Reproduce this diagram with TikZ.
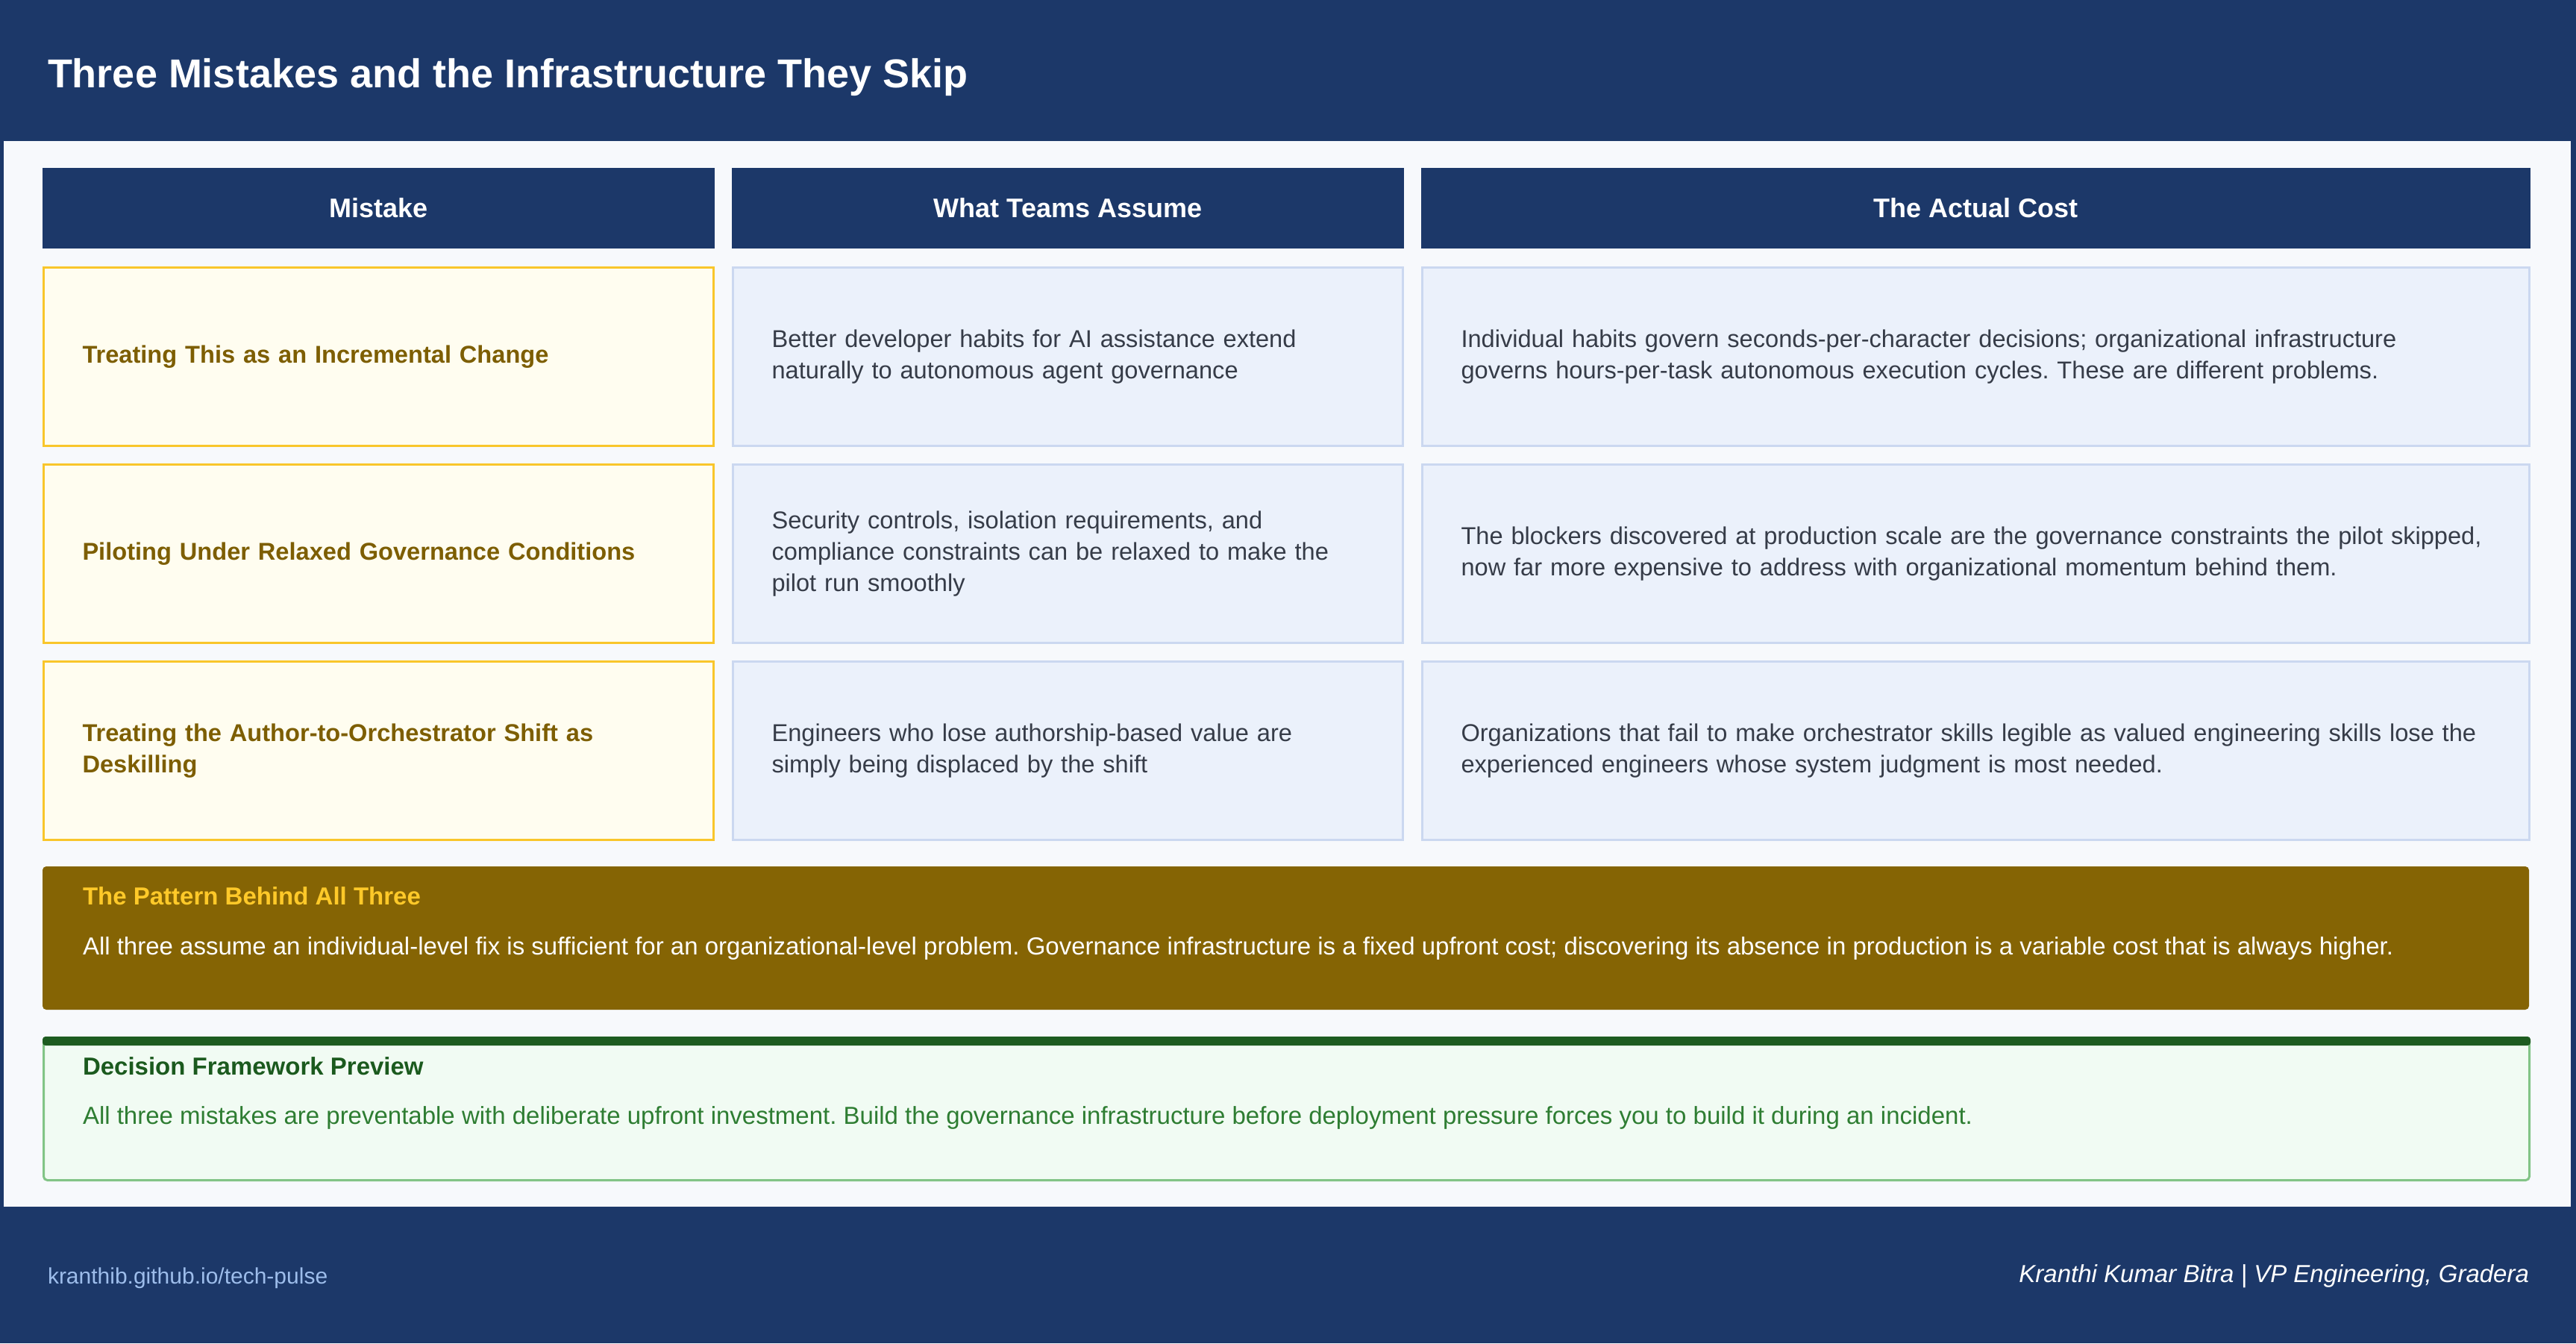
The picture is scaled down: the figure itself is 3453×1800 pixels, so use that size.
\documentclass[tikz,border=0pt]{standalone}
\usepackage{fontspec}
\setmainfont{Liberation Sans}
\usetikzlibrary{calc}
\definecolor{navy}{HTML}{1C3869}
\definecolor{panelbg}{HTML}{F7F9FC}
\definecolor{creamfill}{HTML}{FFFDF0}
\definecolor{yellowline}{HTML}{F9C62B}
\definecolor{goldtext}{HTML}{7D5E02}
\definecolor{bluefill}{HTML}{EBF1FB}
\definecolor{blueline}{HTML}{CBD8F0}
\definecolor{graytext}{HTML}{363C48}
\definecolor{patternfill}{HTML}{856404}
\definecolor{patterntitle}{HTML}{FFC929}
\definecolor{greenfill}{HTML}{F1FBF3}
\definecolor{greenline}{HTML}{82C486}
\definecolor{greenbar}{HTML}{1D5C20}
\definecolor{greentitle}{HTML}{1B5A1E}
\definecolor{greentext}{HTML}{2E7D32}
\definecolor{linkblue}{HTML}{9DBDEB}
\newcommand\fsTitle{\fontsize{54}{64}\selectfont\bfseries}
\newcommand\fsHead{\fontsize{36}{44}\selectfont\bfseries}
\newcommand\fsBody{\fontsize{33}{42}\selectfont}
\newcommand\fsCell{\fontsize{32.6}{42}\selectfont}
\newcommand\fsFoot{\fontsize{30}{36}\selectfont}
\tikzset{
  hdrcell/.style={fill=navy, text=white, font=\fsHead, minimum height=108pt, inner sep=0pt, outer sep=0pt, anchor=center},
  mistakecell/.style={draw=yellowline, fill=creamfill, line width=3pt, text=goldtext, font=\fsCell\bfseries,
     minimum height=239pt, inner xsep=52pt, inner ysep=0pt, align=left, anchor=center},
  infocell/.style={draw=blueline, fill=bluefill, line width=3pt, text=graytext, font=\fsCell,
     minimum height=239pt, inner xsep=52pt, inner ysep=0pt, align=left, anchor=center},
  narrowcol/.style={text width=794pt},
  widecol/.style={text width=1380pt},
  plaintext/.style={inner sep=0pt, outer sep=0pt, anchor=base west},
}
\begin{document}
\frenchspacing
\begin{tikzpicture}[x=1pt,y=-1pt]
\useasboundingbox (0,0) rectangle (3453,1800);
% background bands
\fill[navy] (0,0) rectangle (3453,1800);
\fill[panelbg] (5,189) rectangle (3446,1617);
% title
\node[plaintext, text=white, font=\fsTitle] (title) at (64,117) {Three Mistakes and the Infrastructure They Skip};
% column headers
\node[hdrcell, minimum width=901pt] (h1) at (507.5,279) {Mistake};
\node[hdrcell, minimum width=901pt] (h2) at (1431.5,279) {What Teams Assume};
\node[hdrcell, minimum width=1487pt] (h3) at (2648.5,279) {The Actual Cost};
% row 1
\node[mistakecell, narrowcol] (m1) at (507.5,478) {Treating This as an Incremental Change};
\node[infocell, narrowcol] (a1) at (1431.5,478) {\mbox{Better developer habits for AI assistance extend}\\\mbox{naturally to autonomous agent governance}};
\node[infocell, widecol] (c1) at (2648.5,478) {\mbox{Individual habits govern seconds-per-character decisions; organizational infrastructure}\\\mbox{governs hours-per-task autonomous execution cycles. These are different problems.}};
% row 2
\node[mistakecell, narrowcol] (m2) at (507.5,742) {Piloting Under Relaxed Governance Conditions};
\node[infocell, narrowcol] (a2) at (1431.5,742) {\mbox{Security controls, isolation requirements, and}\\\mbox{compliance constraints can be relaxed to make the}\\\mbox{pilot run smoothly}};
\node[infocell, widecol] (c2) at (2648.5,742) {\mbox{The blockers discovered at production scale are the governance constraints the pilot skipped,}\\\mbox{now far more expensive to address with organizational momentum behind them.}};
% row 3
\node[mistakecell, narrowcol] (m3) at (507.5,1006) {\mbox{Treating the Author-to-Orchestrator Shift as}\\\mbox{Deskilling}};
\node[infocell, narrowcol] (a3) at (1431.5,1006) {\mbox{Engineers who lose authorship-based value are}\\\mbox{simply being displaced by the shift}};
\node[infocell, widecol] (c3) at (2648.5,1006) {\mbox{Organizations that fail to make orchestrator skills legible as valued engineering skills lose the}\\\mbox{experienced engineers whose system judgment is most needed.}};
% pattern box
\node[fill=patternfill, rounded corners=5pt, minimum width=3333pt, minimum height=192pt, inner sep=0pt, outer sep=0pt] (pattern) at (1723.5,1257) {};
\node[plaintext, text=patterntitle, font=\fsBody\bfseries] (ptitle) at (111,1212) {The Pattern Behind All Three};
\node[plaintext, text=white, font=\fsBody] (pbody) at (111,1279) {All three assume an individual-level fix is sufficient for an organizational-level problem. Governance infrastructure is a fixed upfront cost; discovering its absence in production is a variable cost that is always higher.};
% decision box
\node[draw=greenline, fill=greenfill, line width=3pt, rounded corners=5pt, minimum width=3332pt, minimum height=191pt, inner sep=0pt, outer sep=0pt] (decision) at (1724.5,1486) {};
\fill[greenbar, rounded corners=4pt] ($(decision.north west)+(-1.5,-1.5)$) rectangle ($(decision.north east)+(1.5,10.5)$);
\node[plaintext, text=greentitle, font=\fsBody\bfseries] (dtitle) at (111,1440) {Decision Framework Preview};
\node[plaintext, text=greentext, font=\fsBody] (dbody) at (111,1506) {All three mistakes are preventable with deliberate upfront investment. Build the governance infrastructure before deployment pressure forces you to build it during an incident.};
% footer
\node[plaintext, text=linkblue, font=\fsFoot] (flink) at (64,1720) {kranthib.github.io/tech-pulse};
\node[inner sep=0pt, outer sep=0pt, anchor=base east, text=white, font=\fontsize{33}{38}\selectfont\itshape] (fauthor) at (3390,1718) {Kranthi Kumar Bitra | VP Engineering, Gradera};
\end{tikzpicture}
\end{document}
